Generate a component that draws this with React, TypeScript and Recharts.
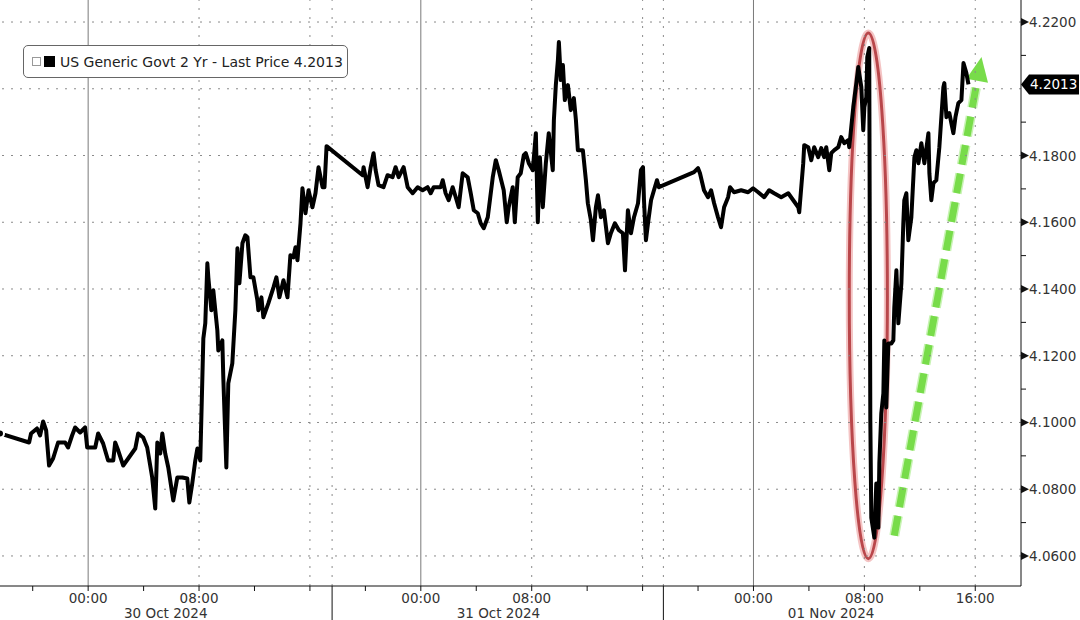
import { LineChart, Line, XAxis, YAxis, ReferenceLine, ReferenceArea } from "recharts";

const FONT = "'DejaVu Sans', Tahoma, sans-serif";

// hours since 00:00 30 Oct 2024
const oct30Hours = [-6.36, -4.26, -4.12, -3.69, -3.47, -3.25, -3.03, -2.82, -2.53, -2.17,
  -1.66, -1.45, -1.16, -0.94, -0.58, -0.22, -0.07, 0.51, 0.72, 1.08,
  1.44, 1.81, 1.95, 2.17, 2.53, 2.89, 3.40, 3.61, 3.97, 4.26,
  4.62, 4.84, 4.99, 5.20, 5.35, 5.56, 5.78, 6.14, 6.43, 6.79,
  7.15, 7.30, 7.51, 7.73, 7.88, 8.09, 8.31, 8.45, 8.60, 8.67,
  8.89, 9.03, 9.32, 9.39, 9.68, 9.75, 9.97, 10.11, 10.40, 10.62,
  10.77, 10.91, 11.13, 11.34, 11.49, 11.71, 11.92, 12.21, 12.28, 12.50,
  12.64, 13.00, 13.37, 13.58, 13.80, 14.09, 14.38, 14.59, 14.81, 14.96,
  15.10, 15.32, 15.46, 15.68, 15.90, 16.18, 16.40, 16.62, 16.91, 17.05, 17.20];
const oct30Yields = [4.0967, 4.0940, 4.0967, 4.0982, 4.0961, 4.1003, 4.0976, 4.0871, 4.0892, 4.0940,
  4.0940, 4.0925, 4.0961, 4.0985, 4.0970, 4.0985, 4.0925, 4.0925, 4.0967, 4.0937,
  4.0886, 4.0886, 4.0940, 4.0916, 4.0871, 4.0892, 4.0922, 4.0967, 4.0955, 4.0925,
  4.0835, 4.0742, 4.0940, 4.0907, 4.0967, 4.0907, 4.0865, 4.0766, 4.0835, 4.0835,
  4.0832, 4.0760, 4.0817, 4.0886, 4.0922, 4.0886, 4.1252, 4.1297, 4.1477, 4.1435,
  4.1336, 4.1396, 4.1276, 4.1216, 4.1246, 4.1135, 4.0865, 4.1117, 4.1177, 4.1336,
  4.1522, 4.1417, 4.1537, 4.1561, 4.1555, 4.1435, 4.1435, 4.1366, 4.1336, 4.1375,
  4.1315, 4.1357, 4.1405, 4.1435, 4.1375, 4.1426, 4.1375, 4.1501, 4.1495, 4.1525,
  4.1486, 4.1597, 4.1702, 4.1627, 4.1696, 4.1645, 4.1687, 4.1765, 4.1705, 4.1705, 4.1828];

const oct31Hours = [19.80, 19.87, 20.16, 20.37, 20.59, 20.74, 20.95, 21.31, 21.60, 21.96,
  22.18, 22.40, 22.76, 23.05, 23.41, 23.77, 24.13, 24.49, 24.71, 24.93,
  25.43, 25.58, 25.79, 26.01, 26.30, 26.52, 26.73, 27.02, 27.38, 27.60,
  27.82, 28.11, 28.32, 28.54, 28.83, 29.19, 29.41, 29.62, 29.98, 30.20,
  30.34, 30.63, 30.78, 30.99, 31.21, 31.43, 31.57, 31.79, 32.08, 32.30,
  32.44, 32.59, 32.80, 33.02, 33.23, 33.52, 33.60, 33.74, 33.89, 33.96,
  34.10, 34.25, 34.39, 34.61, 34.82, 35.04, 35.19, 35.33, 35.69, 35.91,
  36.05, 36.27, 36.42, 36.63, 36.78, 36.99, 37.21, 37.50, 37.71, 38.00,
  38.29, 38.58, 38.73, 38.94, 39.16, 39.38, 39.67, 39.88, 40.03, 40.10,
  40.24, 40.39, 40.61, 40.82, 41.04, 41.18];
const oct31Yields = [4.1741, 4.1765, 4.1705, 4.1762, 4.1807, 4.1756, 4.1711, 4.1705, 4.1741, 4.1735,
  4.1765, 4.1735, 4.1765, 4.1705, 4.1687, 4.1705, 4.1696, 4.1705, 4.1687, 4.1705,
  4.1705, 4.1726, 4.1687, 4.1666, 4.1705, 4.1675, 4.1645, 4.1747, 4.1735, 4.1687,
  4.1636, 4.1627, 4.1597, 4.1582, 4.1615, 4.1735, 4.1786, 4.1756, 4.1696, 4.1600,
  4.1645, 4.1705, 4.1600, 4.1735, 4.1747, 4.1801, 4.1807, 4.1777, 4.1756, 4.1867,
  4.1600, 4.1795, 4.1645, 4.1777, 4.1867, 4.1756, 4.1906, 4.2011, 4.2086, 4.2140,
  4.2026, 4.2071, 4.1966, 4.2011, 4.1936, 4.1972, 4.1906, 4.1816, 4.1816, 4.1726,
  4.1657, 4.1606, 4.1546, 4.1645, 4.1681, 4.1615, 4.1636, 4.1537, 4.1567, 4.1597,
  4.1576, 4.1567, 4.1456, 4.1636, 4.1567, 4.1615, 4.1657, 4.1756, 4.1765, 4.1666,
  4.1546, 4.1597, 4.1666, 4.1696, 4.1726, 4.1705];

const nov01Hours = [43.71, 44.00, 44.14, 44.43, 44.72, 44.94, 45.16, 45.44, 45.66, 45.88,
  46.17, 46.31, 46.60, 47.11, 47.61, 47.97, 48.34, 48.77, 49.13, 49.49,
  50.00, 50.51, 50.87, 51.23, 51.30, 51.59, 51.66, 51.95, 52.17, 52.38,
  52.67, 52.89, 53.10, 53.25, 53.47, 53.61, 53.83, 54.12, 54.33, 54.55,
  54.84, 54.91, 55.20, 55.42, 55.56, 55.78, 55.92, 56.00, 56.14, 56.21,
  56.35, 56.43, 56.50, 56.72, 56.86, 57.01, 57.08, 57.22, 57.37, 57.44,
  57.58, 57.73, 57.95, 58.09, 58.16, 58.31, 58.45, 58.67, 58.81, 58.88,
  59.03, 59.17, 59.39, 59.61, 59.75, 59.90, 60.11, 60.33, 60.62, 60.69,
  60.83, 60.98, 61.19, 61.41, 61.70, 61.77, 61.92, 62.13, 62.42, 62.57,
  62.78, 63.00, 63.15, 63.36, 63.51];
const nov01Yields = [4.1750, 4.1762, 4.1747, 4.1696, 4.1675, 4.1696, 4.1657, 4.1615, 4.1585, 4.1645,
  4.1675, 4.1705, 4.1690, 4.1696, 4.1690, 4.1702, 4.1690, 4.1675, 4.1696, 4.1687,
  4.1675, 4.1687, 4.1666, 4.1645, 4.1630, 4.1777, 4.1831, 4.1825, 4.1786, 4.1825,
  4.1795, 4.1822, 4.1795, 4.1825, 4.1756, 4.1807, 4.1816, 4.1825, 4.1855, 4.1837,
  4.1846, 4.1825, 4.1945, 4.2017, 4.2065, 4.2005, 4.1876, 4.1945, 4.1975, 4.2095,
  4.2122, 4.1006, 4.0715, 4.0655, 4.0817, 4.0685, 4.0877, 4.1027, 4.1087, 4.1246,
  4.1045, 4.1237, 4.1237, 4.1246, 4.1345, 4.1456, 4.1297, 4.1417, 4.1597, 4.1666,
  4.1687, 4.1546, 4.1615, 4.1795, 4.1816, 4.1777, 4.1837, 4.1777, 4.1867, 4.1747,
  4.1666, 4.1717, 4.1726, 4.1825, 4.2005, 4.2017, 4.1915, 4.1927, 4.1867, 4.1915,
  4.1957, 4.1966, 4.2077, 4.2047, 4.2013];

const seriesName = "US Generic Govt 2 Yr - Last Price";
const lastPrice = 4.2013;

const priceTicks = [4.06, 4.08, 4.10, 4.12, 4.14, 4.16, 4.18, 4.20, 4.22];
const minorPriceTicks = [4.07, 4.09, 4.11, 4.13, 4.15, 4.17, 4.19, 4.21];

const hourTicks = [-4, 0, 4, 8, 12, 16, 20, 24, 28, 32, 36, 40, 44, 48, 52, 56, 60, 64];
const hourLabels = [0, 8, 24, 32, 48, 56, 64];
const midnights = [0, 24, 48];
const dottedHours = [8, 16, 32, 40, 56, 64];
const dayBreaks = [17.6, 41.5];
const dayNames = ["30 Oct 2024", "31 Oct 2024", "01 Nov 2024"];
const dayCentres = [5.6, 29.6, 53.6];

// annotations, in data units
const selloff = { from: 54.91, to: 57.66, low: 4.0592, high: 4.2167 };
const rebound = { from: 58.16, to: 64.45, low: 4.0661, high: 4.2095 };

const hours = [...oct30Hours, ...oct31Hours, ...nov01Hours];
const yields = [...oct30Yields, ...oct31Yields, ...nov01Yields];
const data = hours.map((h, i) => ({ h, y: yields[i] }));

const xTicks = [...hourTicks, ...dayBreaks, ...dayCentres];
const yTicks = [...priceTicks, ...minorPriceTicks, lastPrice];

function TimeTick({ x, y, payload }: any) {
  const v = payload.value;
  const d = dayCentres.indexOf(v);
  if (d >= 0) {
    return (
      <text x={x} y={y + 32} textAnchor="middle" fontSize={13.5} fill="#333" fontFamily={FONT}>
        {dayNames[d]}
      </text>
    );
  }
  if (dayBreaks.includes(v)) {
    return <line x1={x} y1={y} x2={x} y2={y + 36} stroke="#111" strokeWidth={1} />;
  }
  const hh = ((v % 24) + 24) % 24;
  return (
    <g>
      <line x1={x} y1={y} x2={x} y2={y + 5} stroke="#111" strokeWidth={1} />
      {hourLabels.includes(v) && (
        <text x={x} y={y + 17} textAnchor="middle" fontSize={13.5} fill="#333" fontFamily={FONT}>
          {String(hh).padStart(2, "0") + ":00"}
        </text>
      )}
    </g>
  );
}

function PriceTick({ x, y, payload }: any) {
  const v = payload.value;
  if (v === lastPrice) {
    return (
      <g>
        <polygon
          points={`${x},${y} ${x + 8},${y - 10} ${x + 58},${y - 10} ${x + 58},${y + 10} ${x + 8},${y + 10}`}
          fill="#000"
        />
        <text x={x + 9} y={y + 5} fontSize={13.5} fill="#fff" fontFamily={FONT}>
          {lastPrice.toFixed(4)}
        </text>
      </g>
    );
  }
  if (minorPriceTicks.includes(v)) {
    return <line x1={x} y1={y} x2={x + 5} y2={y} stroke="#111" strokeWidth={1} />;
  }
  if (Math.abs(v - lastPrice) < 0.006) return <g />;
  return (
    <g>
      <polygon points={`${x},${y - 4} ${x},${y + 4} ${x + 8},${y}`} fill="#111" />
      <text x={x + 8} y={y + 5} fontSize={13.5} fill="#333" fontFamily={FONT}>
        {v.toFixed(4)}
      </text>
    </g>
  );
}

function RingShape({ x, y, width, height }: any) {
  const cx = x + width / 2;
  const cy = y + height / 2;
  return (
    <g>
      <ellipse cx={cx} cy={cy} rx={width / 2} ry={height / 2} fill="none" stroke="#f4c4c4" strokeWidth={7} />
      <ellipse cx={cx} cy={cy} rx={width / 2} ry={height / 2} fill="none" stroke="#b9474b" strokeWidth={3} />
    </g>
  );
}

function ArrowShape({ x, y, width, height }: any) {
  const x0 = x, y0 = y + height, x1 = x + width, y1 = y;
  const len = Math.hypot(x1 - x0, y1 - y0);
  const ux = (x1 - x0) / len, uy = (y1 - y0) / len;
  const head = 24, half = 11;
  const bx = x1 - ux * head, by = y1 - uy * head;
  const px = -uy, py = ux;
  return (
    <g>
      <line x1={x0} y1={y0} x2={bx} y2={by} stroke="#c8f3b4" strokeWidth={10} strokeDasharray="20 9" />
      <line x1={x0} y1={y0} x2={bx} y2={by} stroke="#78dc4a" strokeWidth={7} strokeDasharray="20 9" />
      <polygon
        points={`${x1},${y1} ${bx + px * half},${by + py * half} ${bx - px * half},${by - py * half}`}
        fill="#78dc4a"
      />
    </g>
  );
}

export default function App() {
  return (
    <div style={{ position: "absolute", left: 0, top: 0, width: 1080, height: 620, background: "#fff", fontFamily: FONT }}>
      <LineChart width={1080} height={620} data={data} margin={{ top: 0, right: 0, bottom: 0, left: 0 }}>
        <XAxis
          dataKey="h"
          type="number"
          domain={[-6.36, 67.3]}
          allowDataOverflow
          ticks={xTicks}
          interval={0}
          tick={<TimeTick />}
          tickLine={false}
          tickSize={0}
          tickMargin={0}
          axisLine={{ stroke: "#111" }}
          height={34}
        />
        <YAxis
          orientation="right"
          type="number"
          domain={[4.051, 4.2266]}
          allowDataOverflow
          ticks={yTicks}
          interval={0}
          tick={<PriceTick />}
          tickLine={false}
          tickSize={0}
          tickMargin={0}
          axisLine={{ stroke: "#111" }}
          width={59}
        />
        {priceTicks.map((p) => (
          <ReferenceLine key={"p" + p} y={p} stroke="#8a8a8a" strokeDasharray="2 7" />
        ))}
        {midnights.map((h) => (
          <ReferenceLine key={"m" + h} x={h} stroke="#7a7a7a" strokeWidth={1} />
        ))}
        {[...dottedHours, ...dayBreaks].map((h) => (
          <ReferenceLine key={"d" + h} x={h} stroke="#8a8a8a" strokeDasharray="2 7" />
        ))}
        <Line
          dataKey="y"
          type="linear"
          stroke="#000"
          strokeWidth={4}
          strokeLinejoin="round"
          dot={false}
          isAnimationActive={false}
        />
        <ReferenceArea x1={selloff.from} x2={selloff.to} y1={selloff.low} y2={selloff.high} shape={<RingShape />} />
        <ReferenceArea x1={rebound.from} x2={rebound.to} y1={rebound.low} y2={rebound.high} shape={<ArrowShape />} />
      </LineChart>
      <div
        style={{
          position: "absolute",
          left: 23,
          top: 45,
          width: 323,
          height: 31,
          border: "1.5px solid #666",
          borderRadius: 5,
          background: "#fff",
          display: "flex",
          alignItems: "center",
          fontSize: 14,
          color: "#222",
          whiteSpace: "nowrap",
        }}
      >
        <span style={{ width: 7, height: 7, border: "1px solid #999", marginLeft: 8, marginRight: 3, display: "inline-block" }} />
        <span style={{ width: 11, height: 11, background: "#000", marginRight: 5, display: "inline-block" }} />
        <span>
          {seriesName} {lastPrice.toFixed(4)}
        </span>
      </div>
    </div>
  );
}
